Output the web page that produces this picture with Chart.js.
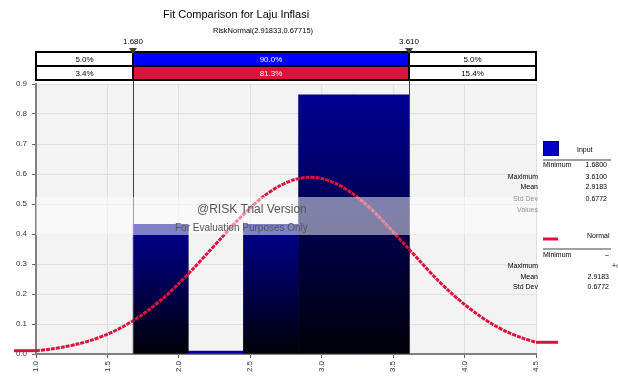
<!DOCTYPE html>
<html>
<head>
<meta charset="utf-8">
<script src="https://cdn.jsdelivr.net/npm/chart.js@4"></script>
<style>
  body { margin: 0; background: #fff; }
  #wrap { width: 618px; height: 382px; position: relative; }
</style>
</head>
<body>
<div id="wrap"><canvas id="fitchart"></canvas></div>
<script>
// histogram bins (density)
var binStarts = [1.680, 2.066, 2.452, 2.838, 3.224];
var binEnd = 3.610;
var binDensity = [0.432, 0, 0.432, 0.864, 0.864];

// fitted normal curve
var curveX = [1.0, 1.1, 1.2, 1.3, 1.4, 1.5, 1.6, 1.7, 1.8, 1.9, 2.0, 2.1, 2.2, 2.3, 2.4, 2.5, 2.6, 2.7,
              2.8, 2.9, 3.0, 3.1, 3.2, 3.3, 3.4, 3.5, 3.6, 3.7, 3.8, 3.9, 4.0, 4.1, 4.2, 4.3, 4.4, 4.5];
var curveY = [0.011, 0.016, 0.024, 0.034, 0.048, 0.066, 0.089, 0.117, 0.151, 0.190, 0.235, 0.284,
              0.336, 0.388, 0.440, 0.487, 0.528, 0.559, 0.580, 0.589, 0.585, 0.568, 0.540, 0.503,
              0.458, 0.407, 0.355, 0.303, 0.252, 0.206, 0.165, 0.129, 0.098, 0.073, 0.054, 0.039];

// delimiters and percent bars
var markers = [1.680, 3.610];
var inputPct = ['5.0%', '90.0%', '5.0%'];
var fitPct = ['3.4%', '81.3%', '15.4%'];

// side legend
var inputStats = [['Minimum', '1.6800'], ['Maximum', '3.6100'], ['Mean', '2.9183'], ['Std Dev', '0.6772'], ['Values', '']];
var normalStats = [['Minimum', '\u2013'], ['Maximum', '+\u221e'], ['Mean', '2.9183'], ['Std Dev', '0.6772']];

var FONT = '"Liberation Sans", Arial, sans-serif';

var histData = binStarts.map(function (s, i) {
    var e = i < binStarts.length - 1 ? binStarts[i + 1] : binEnd;
    return { x: (s + e) / 2, y: binDensity[i] };
});
var curveData = curveX.map(function (x, i) { return { x: x, y: curveY[i] }; });

function barFill(ctx) {
    var chart = ctx.chart;
    if (!chart.chartArea || !ctx.raw) return '#000090';
    var v = ctx.raw.y;
    if (!v) return '#0000a8';
    var ys = chart.scales.y;
    var top = ys.getPixelForValue(v), bot = ys.getPixelForValue(0);
    var g = chart.ctx.createLinearGradient(0, top, 0, bot);
    g.addColorStop(0, '#000092');
    g.addColorStop(1, '#000008');
    return g;
}

var decor = {
    id: 'decor',
    beforeDraw: function (chart) {
        var c = chart.ctx, a = chart.chartArea;
        c.save();
        c.fillStyle = '#f3f3f3';
        c.fillRect(a.left, a.top, a.right - a.left, a.bottom - a.top);
        c.restore();
    },
    afterDatasetsDraw: function (chart) {
        var c = chart.ctx, a = chart.chartArea;
        var xs = chart.scales.x, ys = chart.scales.y;
        c.save();
        // delimiter lines
        c.strokeStyle = '#404040';
        c.lineWidth = 1;
        markers.forEach(function (m) {
            var px = Math.round(xs.getPixelForValue(m)) + 0.5;
            c.beginPath(); c.moveTo(px, 52); c.lineTo(px, a.bottom); c.stroke();
        });
        // curve tails outside plot
        c.strokeStyle = '#dc143c';
        c.lineWidth = 3;
        var yl = ys.getPixelForValue(curveY[0]);
        var yr = ys.getPixelForValue(curveY[curveY.length - 1]);
        c.beginPath(); c.moveTo(14, yl); c.lineTo(a.left, yl); c.stroke();
        c.beginPath(); c.moveTo(a.right, yr); c.lineTo(558, yr); c.stroke();
        // watermark band
        c.fillStyle = 'rgba(255,255,255,0.5)';
        c.fillRect(a.left, 197, a.right - a.left, 38);
        c.fillStyle = '#555';
        c.textBaseline = 'middle';
        c.textAlign = 'left';
        c.font = '12px ' + FONT;
        c.fillText('@RISK Trial Version', 197, 210);
        c.font = '10px ' + FONT;
        c.fillText('For Evaluation Purposes Only', 175, 228);
        c.restore();
    },
    afterDraw: function (chart) {
        var c = chart.ctx, a = chart.chartArea;
        var xs = chart.scales.x;
        var x0 = a.left, x1 = Math.round(xs.getPixelForValue(markers[0])),
            x2 = Math.round(xs.getPixelForValue(markers[1])), x3 = a.right;
        c.save();
        // titles
        c.fillStyle = '#000';
        c.textBaseline = 'middle';
        c.textAlign = 'left';
        c.font = '11px ' + FONT;
        c.fillText('Fit Comparison for Laju Inflasi', 163, 15);
        c.font = '7.5px ' + FONT;
        c.fillText('RiskNormal(2.91833,0.67715)', 213, 31);
        // percent bars
        c.fillStyle = '#0000ff'; c.fillRect(x1, 52, x2 - x1, 14);
        c.fillStyle = '#dc143c'; c.fillRect(x1, 66, x2 - x1, 14);
        c.fillStyle = '#fff';
        c.fillRect(x0, 52, x1 - x0, 28);
        c.fillRect(x2, 52, x3 - x2, 28);
        c.strokeStyle = '#000';
        c.lineWidth = 2;
        c.strokeRect(x0, 52, x3 - x0, 28);
        c.beginPath();
        c.moveTo(x0, 66); c.lineTo(x3, 66);
        c.moveTo(x1, 52); c.lineTo(x1, 80);
        c.moveTo(x2, 52); c.lineTo(x2, 80);
        c.stroke();
        c.textAlign = 'center';
        c.font = '8px ' + FONT;
        var cx = [(x0 + x1) / 2, (x1 + x2) / 2, (x2 + x3) / 2];
        for (var i = 0; i < 3; i++) {
            c.fillStyle = i === 1 ? '#fff' : '#000';
            c.fillText(inputPct[i], cx[i], 59.5);
            c.fillText(fitPct[i], cx[i], 73.5);
        }
        // marker labels and triangles
        markers.forEach(function (m) {
            var px = Math.round(xs.getPixelForValue(m));
            c.fillStyle = '#000';
            c.fillText(m.toFixed(3), px, 42);
            c.fillStyle = '#404040';
            c.beginPath(); c.moveTo(px - 4, 48); c.lineTo(px + 4, 48); c.lineTo(px, 54); c.closePath(); c.fill();
        });
        // side legend
        c.font = '7px ' + FONT;
        c.fillStyle = '#0000c8'; c.fillRect(543, 141, 16, 15);
        c.strokeStyle = '#000060'; c.lineWidth = 1; c.strokeRect(543.5, 141.5, 15, 14);
        c.fillStyle = '#000'; c.textAlign = 'left';
        c.fillText('Input', 577, 150);
        c.strokeStyle = '#a0a0a0'; c.lineWidth = 2;
        c.beginPath(); c.moveTo(543, 160); c.lineTo(611, 160); c.stroke();
        var iy = [165, 177, 187, 199, 210];
        inputStats.forEach(function (s, i) {
            c.fillStyle = i >= 3 ? '#909090' : '#000';
            if (i === 0) { c.textAlign = 'left'; c.fillText(s[0], 543, iy[i]); }
            else { c.textAlign = 'right'; c.fillText(s[0], 538, iy[i]); }
            c.fillStyle = '#000'; c.textAlign = 'right';
            c.fillText(s[1], 607, iy[i]);
        });
        c.strokeStyle = '#dc143c'; c.lineWidth = 3;
        c.beginPath(); c.moveTo(543, 239); c.lineTo(558, 239); c.stroke();
        c.fillStyle = '#000'; c.textAlign = 'left';
        c.fillText('Normal', 587, 236);
        c.strokeStyle = '#a0a0a0'; c.lineWidth = 2;
        c.beginPath(); c.moveTo(543, 249); c.lineTo(611, 249); c.stroke();
        var ny = [255, 266, 277, 287];
        normalStats.forEach(function (s, i) {
            c.fillStyle = '#000';
            if (i === 0) { c.textAlign = 'left'; c.fillText(s[0], 543, ny[i]); }
            else { c.textAlign = 'right'; c.fillText(s[0], 538, ny[i]); }
            if (i === 1) { c.textAlign = 'left'; c.fillText(s[1], 612, ny[i]); }
            else { c.textAlign = 'right'; c.fillText(s[1], 609, ny[i]); }
        });
        c.restore();
    }
};

var fitChart = new Chart(document.getElementById('fitchart'), {
    type: 'bar',
    data: {
        datasets: [{
            type: 'line',
            label: 'Normal',
            data: curveData,
            borderColor: '#dc143c',
            borderWidth: 3,
            borderDash: [4, 1],
            pointRadius: 0,
            tension: 0.3,
            fill: false,
            order: 0
        }, {
            type: 'bar',
            label: 'Input',
            data: histData,
            backgroundColor: barFill,
            borderWidth: 0,
            barPercentage: 1,
            categoryPercentage: 1,
            minBarLength: 3,
            order: 1
        }]
    },
    options: {
        responsive: true,
        maintainAspectRatio: false,
        animation: false,
        layout: { padding: { top: 84, right: 82, left: 0, bottom: 0 } },
        plugins: {
            legend: { display: false },
            title: { display: false },
            tooltip: { enabled: false }
        },
        scales: {
            x: {
                type: 'linear',
                min: 1.0,
                max: 4.5,
                offset: false,
                afterFit: function (s) { s.height = 28; },
                ticks: {
                    stepSize: 0.5,
                    minRotation: 90,
                    maxRotation: 90,
                    padding: 3,
                    color: '#333',
                    font: { size: 8, family: FONT },
                    callback: function (v) { return Number(v).toFixed(1); }
                },
                grid: { color: '#dedede', tickColor: '#606060', tickLength: 4, offset: false },
                border: { color: '#808080', width: 2 }
            },
            y: {
                min: 0,
                max: 0.9,
                afterFit: function (s) { s.width = 36; },
                ticks: {
                    stepSize: 0.1,
                    padding: 5,
                    color: '#333',
                    font: { size: 8, family: FONT },
                    callback: function (v) { return Number(v).toFixed(1); }
                },
                grid: { color: '#dedede', tickColor: '#606060', tickLength: 4 },
                border: { color: '#808080', width: 2 }
            }
        }
    },
    plugins: [decor]
});
</script>
</body>
</html>
